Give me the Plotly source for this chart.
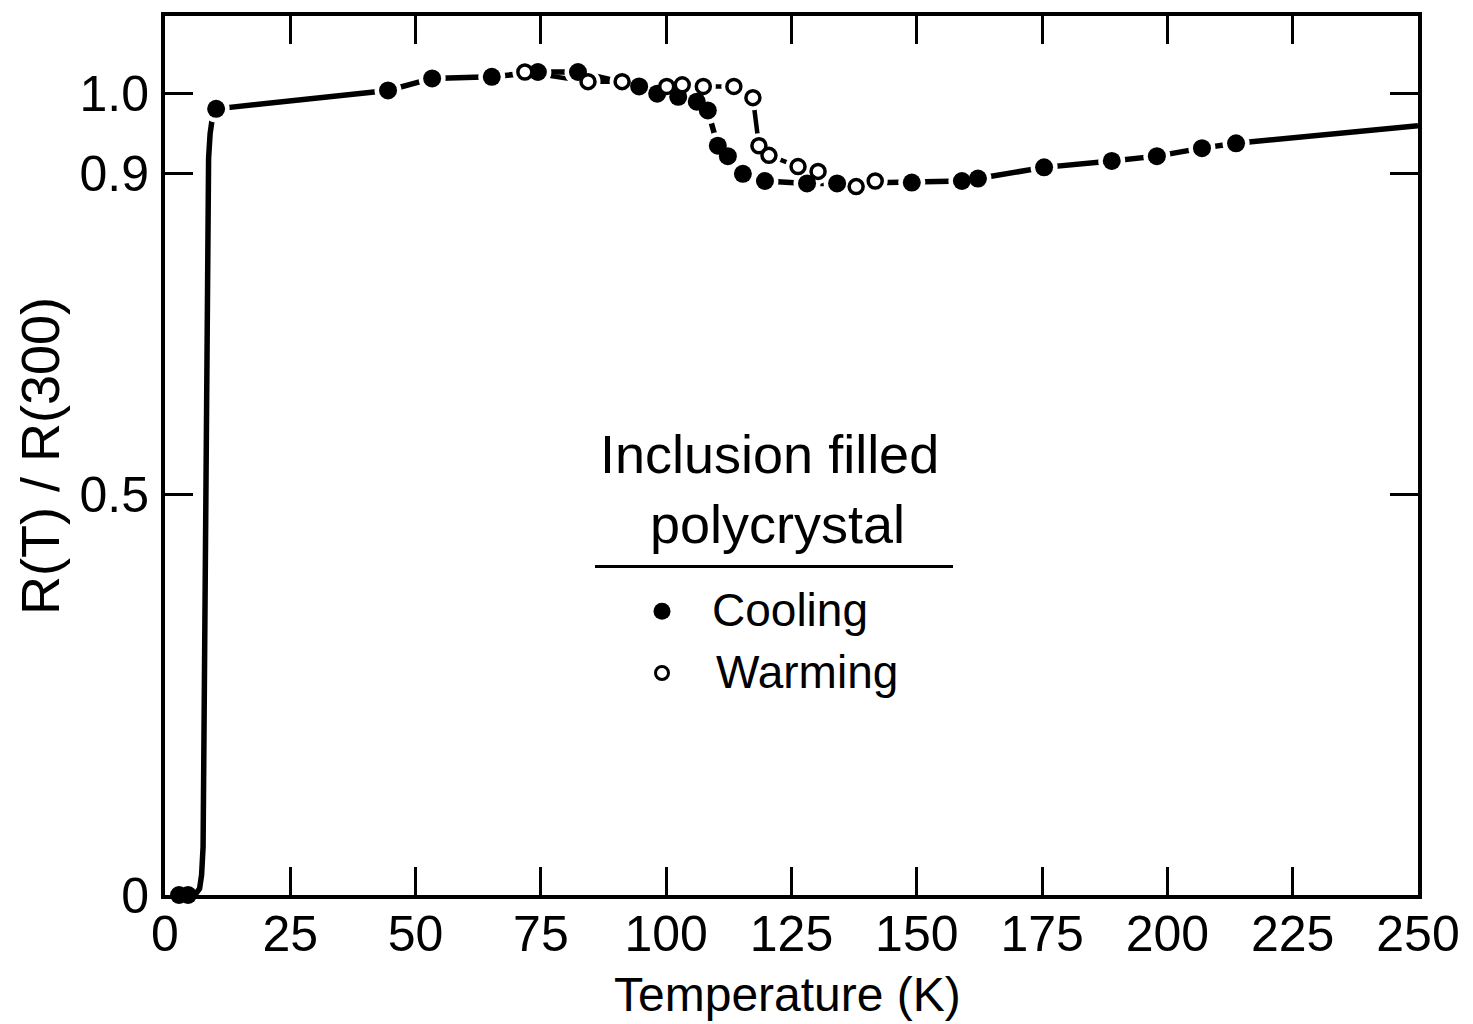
import plotly.graph_objects as go

# ---------------- data ----------------
cool_T = [2.8, 4.6, 10.2, 44.5, 53.3, 65.2, 74.4, 82.4, 94.6, 98.2, 102.4, 106.1,
          108.3, 110.3, 112.3, 115.3, 119.7, 128.1, 134.1, 149.0, 159.0, 162.2,
          175.4, 188.9, 197.9, 206.9, 213.7]
cool_R = [0.0, 0.0, 0.981, 1.004, 1.019, 1.021, 1.027, 1.027, 1.009, 1.000, 0.996, 0.990,
          0.979, 0.935, 0.922, 0.900, 0.891, 0.888, 0.888, 0.889, 0.891, 0.894,
          0.908, 0.916, 0.922, 0.932, 0.938]

# superconducting transition drawn as a curve between the low-T points and 10 K
trans_T = [4.6, 6.2, 6.9, 7.3, 7.6, 8.2, 8.5, 8.7, 9.0, 9.5, 10.2]
trans_R = [0.0, 0.002, 0.008, 0.025, 0.06, 0.5, 0.85, 0.92, 0.95, 0.972, 0.981]

# cooling curve continued past the last measured point
tail_T = [213.7, 250.0]
tail_R = [0.938, 0.960]

warm_T = [71.8, 84.4, 91.2, 100.1, 103.2, 107.4, 113.5, 117.3, 118.5, 120.5,
          126.3, 130.3, 137.9, 141.7]
warm_R = [1.027, 1.015, 1.015, 1.009, 1.011, 1.009, 1.009, 0.995, 0.935, 0.923,
          0.909, 0.903, 0.884, 0.891]

x_ticks = [0, 25, 50, 75, 100, 125, 150, 175, 200, 225, 250]
y_ticks = [0, 0.5, 0.9, 1.0]
y_tick_text = ["0", "0.5", "0.9", "1.0"]

legend_head = ["Inclusion filled", "polycrystal"]
cool_label = "Cooling"
warm_label = "Warming"
x_title = "Temperature (K)"
y_title = "R(T) / R(300)"

# ---------------- figure ----------------
FONT = "Liberation Sans, Arial, sans-serif"
W, H = 1473, 1024
L, R, T, B = 165, 55, 12, 129
PW, PH = W - L - R, H - T - B


def px(x):
    return (x - L) / PW


def py(y):
    return (H - B - y) / PH


fig = go.Figure()
LW = 5.5

# lines
fig.add_trace(go.Scatter(x=trans_T, y=trans_R, mode="lines",
                         line=dict(color="black", width=LW),
                         cliponaxis=False, hoverinfo="skip"))
fig.add_trace(go.Scatter(x=cool_T[2:], y=cool_R[2:], mode="lines",
                         line=dict(color="black", width=LW),
                         cliponaxis=False, hoverinfo="skip"))
fig.add_trace(go.Scatter(x=tail_T, y=tail_R, mode="lines",
                         line=dict(color="black", width=LW),
                         cliponaxis=False, hoverinfo="skip"))
fig.add_trace(go.Scatter(x=warm_T, y=warm_R, mode="lines",
                         line=dict(color="black", width=LW - 1),
                         cliponaxis=False, hoverinfo="skip"))

# white halos (create the gaps where the lines meet the symbols)
fig.add_trace(go.Scatter(x=cool_T[2:], y=cool_R[2:], mode="markers",
                         marker=dict(color="white", size=27, line=dict(width=0)),
                         cliponaxis=False, hoverinfo="skip"))
fig.add_trace(go.Scatter(x=warm_T, y=warm_R, mode="markers",
                         marker=dict(color="white", size=25, line=dict(width=0)),
                         cliponaxis=False, hoverinfo="skip"))

# symbols
fig.add_trace(go.Scatter(x=cool_T, y=cool_R, mode="markers", name=cool_label,
                         marker=dict(color="black", size=18, line=dict(width=0)),
                         cliponaxis=False))
fig.add_trace(go.Scatter(x=warm_T, y=warm_R, mode="markers", name=warm_label,
                         marker=dict(color="white", size=14,
                                     line=dict(color="black", width=3.5)),
                         cliponaxis=False))

axis_common = dict(
    showline=True, linecolor="black", linewidth=4, mirror="ticks",
    ticks="inside", ticklen=28, tickwidth=3, tickcolor="black",
    showgrid=False, zeroline=False,
    tickfont=dict(family=FONT, size=50, color="black"),
)

fig.update_xaxes(range=[0, 250], tickvals=x_ticks,
                 ticktext=[str(v) for v in x_ticks], ticklabelstandoff=-8,
                 **axis_common)
fig.update_yaxes(range=[0, (H - B - T) / 805], tickvals=y_ticks,
                 ticktext=y_tick_text, ticklabelstandoff=2, **axis_common)

annotations = [
    dict(text=x_title, x=px(787), y=py(995), xref="paper", yref="paper",
         showarrow=False, font=dict(family=FONT, size=48, color="black"),
         xanchor="center", yanchor="middle"),
    dict(text=y_title, x=px(40), y=py(454), xref="paper", yref="paper",
         showarrow=False, textangle=-90,
         font=dict(family=FONT, size=54, color="black"),
         xanchor="center", yanchor="middle"),
    dict(text=legend_head[0], x=px(769), y=py(452), xref="paper", yref="paper",
         showarrow=False, font=dict(family=FONT, size=54, color="black"),
         xanchor="center", yanchor="middle"),
    dict(text=legend_head[1], x=px(777), y=py(522), xref="paper", yref="paper",
         showarrow=False, font=dict(family=FONT, size=54, color="black"),
         xanchor="center", yanchor="middle"),
    dict(text=cool_label, x=px(710), y=py(609), xref="paper", yref="paper",
         showarrow=False, font=dict(family=FONT, size=46, color="black"),
         xanchor="left", yanchor="middle"),
    dict(text=warm_label, x=px(714), y=py(671), xref="paper", yref="paper",
         showarrow=False, font=dict(family=FONT, size=46, color="black"),
         xanchor="left", yanchor="middle"),
]

shapes = [
    dict(type="line", xref="paper", yref="paper", x0=px(595), x1=px(953),
         y0=py(565), y1=py(565), line=dict(color="black", width=3)),
    dict(type="circle", xref="paper", yref="paper", xsizemode="pixel",
         ysizemode="pixel", xanchor=px(662), yanchor=py(610),
         x0=-8.5, x1=8.5, y0=-8.5, y1=8.5,
         fillcolor="black", line=dict(color="black", width=0)),
    dict(type="circle", xref="paper", yref="paper", xsizemode="pixel",
         ysizemode="pixel", xanchor=px(662), yanchor=py(672),
         x0=-6.5, x1=6.5, y0=-6.5, y1=6.5,
         fillcolor="white", line=dict(color="black", width=3)),
]

fig.update_layout(
    width=W, height=H,
    margin=dict(l=L, r=R, t=T, b=B, pad=0),
    paper_bgcolor="white", plot_bgcolor="white",
    showlegend=False,
    annotations=annotations, shapes=shapes,
    font=dict(family=FONT, color="black"),
)

fig.write_html("out.html")
